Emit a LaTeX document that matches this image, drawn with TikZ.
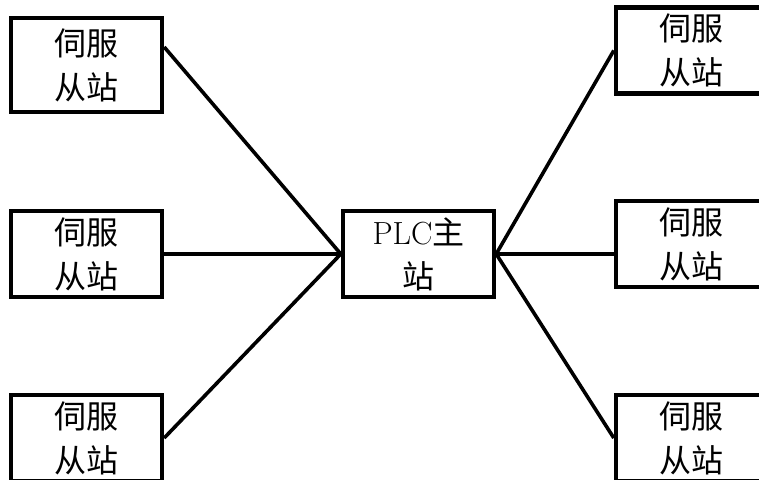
\documentclass[tikz,border=0pt]{standalone}
\usepackage{fontspec}
\newfontfamily\cjk{Noto Sans CJK SC}
\begin{document}
\begin{tikzpicture}[x=0.5pt,y=-0.5pt,
    station/.style={draw, rectangle, line width=2.2pt, minimum width=75.5pt, minimum height=43pt, inner sep=0pt, align=center, font=\fontsize{16}{22}\selectfont},
    link/.style={line width=1.8pt}]
    \useasboundingbox (0,0) rectangle (759,480);

    % Stations maîtres/esclaves
    \node[station] (master) at (418.5,254) {PLC{\cjk 主}\\{\cjk 站}};

    % Côté gauche
    \node[station, minimum height=47pt] (lefttop) at (86.5,65) {{\cjk 伺服}\\{\cjk 从站}};
    \node[station] (leftmid) at (86.5,254) {{\cjk 伺服}\\{\cjk 从站}};
    \node[station] (leftbot) at (86.5,438) {{\cjk 伺服}\\{\cjk 从站}};

    % Côté droit
    \node[station] (righttop) at (691.5,50.5) {{\cjk 伺服}\\{\cjk 从站}};
    \node[station] (rightmid) at (691.5,244) {{\cjk 伺服}\\{\cjk 从站}};
    \node[station] (rightbot) at (691.5,438) {{\cjk 伺服}\\{\cjk 从站}};

    % Liaisons
    \draw[link] ([yshift=9pt]lefttop.east) -- (master.west);
    \draw[link] (leftmid.east |- master.west) -- (master.west);
    \draw[link] (leftbot.east) -- (master.west);
    \draw[link] (master.east) -- (righttop.west);
    \draw[link] (master.east) -- (rightmid.west |- master.east);
    \draw[link] (master.east) -- (rightbot.west);
\end{tikzpicture}
\end{document}
